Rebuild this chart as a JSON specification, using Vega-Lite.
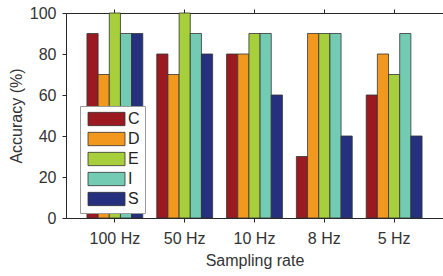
{
  "$schema": "https://vega.github.io/schema/vega-lite/v6.json",
  "width": 377,
  "height": 205,
  "autosize": {"type": "none"},
  "padding": {"left": 66, "top": 13, "right": 0, "bottom": 58},
  "background": "white",
  "config": {
    "font": "Liberation Sans",
    "view": {"stroke": "#262626", "strokeWidth": 1},
    "axis": {
      "grid": false,
      "domain": false,
      "tickDirection": "inward",
      "labelFontSize": 16,
      "labelColor": "#333333",
      "titleFontSize": 16,
      "titleFontWeight": "normal",
      "titleColor": "#333333",
      "tickColor": "#262626",
      "tickSize": 4
    }
  },
  "data": {
    "values": [
      {"rate": "100 Hz", "model": "C", "acc": 90},
      {"rate": "100 Hz", "model": "D", "acc": 70},
      {"rate": "100 Hz", "model": "E", "acc": 100},
      {"rate": "100 Hz", "model": "I", "acc": 90},
      {"rate": "100 Hz", "model": "S", "acc": 90},
      {"rate": "50 Hz", "model": "C", "acc": 80},
      {"rate": "50 Hz", "model": "D", "acc": 70},
      {"rate": "50 Hz", "model": "E", "acc": 100},
      {"rate": "50 Hz", "model": "I", "acc": 90},
      {"rate": "50 Hz", "model": "S", "acc": 80},
      {"rate": "10 Hz", "model": "C", "acc": 80},
      {"rate": "10 Hz", "model": "D", "acc": 80},
      {"rate": "10 Hz", "model": "E", "acc": 90},
      {"rate": "10 Hz", "model": "I", "acc": 90},
      {"rate": "10 Hz", "model": "S", "acc": 60},
      {"rate": "8 Hz", "model": "C", "acc": 30},
      {"rate": "8 Hz", "model": "D", "acc": 90},
      {"rate": "8 Hz", "model": "E", "acc": 90},
      {"rate": "8 Hz", "model": "I", "acc": 90},
      {"rate": "8 Hz", "model": "S", "acc": 40},
      {"rate": "5 Hz", "model": "C", "acc": 60},
      {"rate": "5 Hz", "model": "D", "acc": 80},
      {"rate": "5 Hz", "model": "E", "acc": 70},
      {"rate": "5 Hz", "model": "I", "acc": 90},
      {"rate": "5 Hz", "model": "S", "acc": 40}
    ]
  },
  "layer": [
    {
      "mark": {"type": "bar", "stroke": "#333333", "strokeWidth": 0.8},
      "encoding": {
        "x": {
          "field": "rate", "type": "nominal",
          "sort": ["100 Hz", "50 Hz", "10 Hz", "8 Hz", "5 Hz"],
          "scale": {"paddingInner": 0.2, "paddingOuter": 0.3},
          "axis": {"title": "Sampling rate", "labelAngle": 0, "labelPadding": 8, "titlePadding": 6}
        },
        "xOffset": {
          "field": "model", "type": "nominal",
          "scale": {"paddingInner": 0, "paddingOuter": 0}
        },
        "y": {
          "field": "acc", "type": "quantitative",
          "scale": {"domain": [0, 100], "nice": false},
          "axis": {"title": "Accuracy (%)", "values": [0, 20, 40, 60, 80, 100], "labelPadding": 6, "titlePadding": 5}
        },
        "color": {
          "field": "model", "type": "nominal",
          "scale": {
            "domain": ["C", "D", "E", "I", "S"],
            "range": ["#9b1a21", "#f3981e", "#a6cf3b", "#74cbb3", "#25307f"]
          },
          "legend": {
            "title": null,
            "orient": "none",
            "legendX": 14,
            "legendY": 93,
            "fillColor": "white",
            "strokeColor": "#9a9a9a",
            "padding": 5,
            "symbolType": "M-1,-1.33L6.4,-1.33L6.4,1.33L-1,1.33Z",
            "symbolSize": 100,
            "symbolStrokeColor": "#333333",
            "symbolStrokeWidth": 0.8,
            "symbolOpacity": 1,
            "labelFontSize": 16,
            "labelColor": "#222222",
            "labelOffset": 27,
            "rowPadding": 2
          }
        }
      }
    },
    {
      "mark": {"type": "bar", "opacity": 0},
      "encoding": {
        "x": {
          "field": "rate", "type": "nominal",
          "sort": ["100 Hz", "50 Hz", "10 Hz", "8 Hz", "5 Hz"],
          "axis": {"orient": "top", "labels": false, "title": null}
        },
        "y": {
          "field": "acc", "type": "quantitative",
          "axis": {"orient": "right", "labels": false, "title": null, "values": [0, 20, 40, 60, 80, 100]}
        }
      }
    }
  ],
  "resolve": {"axis": {"x": "independent", "y": "independent"}}
}
